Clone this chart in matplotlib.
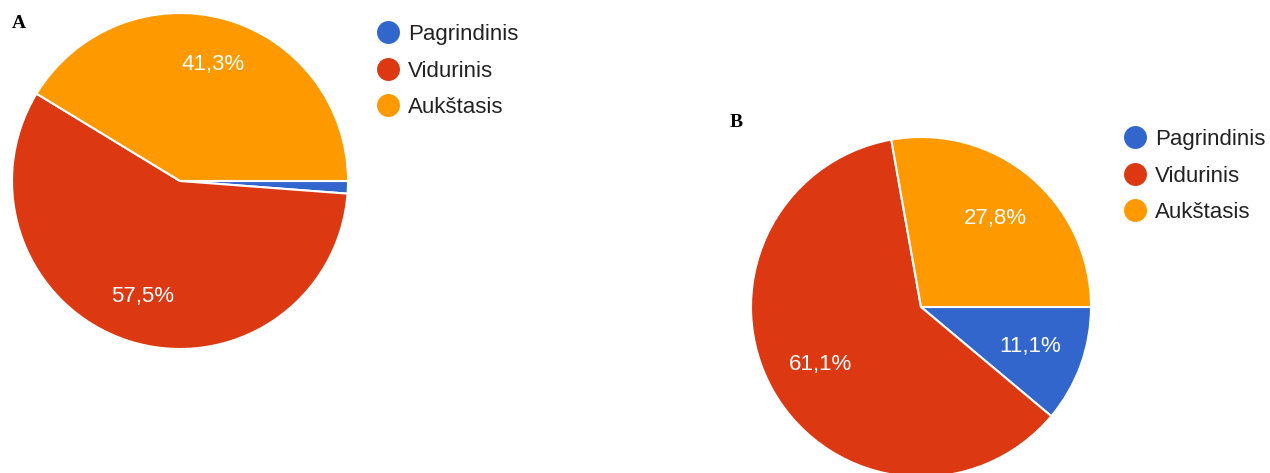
import matplotlib.pyplot as plt
from matplotlib.lines import Line2D

plt.rcParams["font.family"] = ["Liberation Sans", "DejaVu Sans"]

categories = ["Pagrindinis", "Vidurinis", "Aukštasis"]
values_a = [1.2, 57.5, 41.3]
values_b = [11.1, 61.1, 27.8]
colors = ["#3366cc", "#dc3912", "#ff9900"]

W, H = 1270, 473
fig = plt.figure(figsize=(W / 100, H / 100), dpi=100)


def pie_axes(cx, cy, r):
    # pixel centre / radius -> figure coordinates
    return fig.add_axes([(cx - r) / W, (H - cy - r) / H, 2 * r / W, 2 * r / H])


def fmt(p):
    # the tiny slice gets no label
    if p < 5:
        return ""
    return ("%.1f%%" % p).replace(".", ",")


def draw_pie(ax, vals, pctdist):
    wedges, texts, autotexts = ax.pie(
        vals, colors=colors, startangle=0, counterclock=False,
        autopct=fmt, pctdistance=pctdist, radius=1,
        wedgeprops=dict(edgecolor="white", linewidth=1.5),
        textprops=dict(color="white", fontsize=16))
    ax.set_xlim(-1, 1)
    ax.set_ylim(-1, 1)
    ax.set_aspect("equal")
    ax.axis("off")


ax_a = pie_axes(180, 181, 168)
draw_pie(ax_a, values_a, 0.72)
ax_b = pie_axes(921, 307, 170)
draw_pie(ax_b, values_b, 0.68)

handles = [Line2D([], [], marker="o", linestyle="none", markersize=15.5,
                  markerfacecolor=c, markeredgecolor=c) for c in colors]


def add_legend(x, y):
    fig.legend(handles, categories, loc="upper left", bbox_to_anchor=(x / W, 1 - y / H),
               frameon=False, fontsize=16, handlelength=1.0, handletextpad=0.4,
               labelspacing=0.7, borderpad=0, borderaxespad=0, labelcolor="#222222")


add_legend(377, 24)
add_legend(1124, 129)

fig.text(12 / W, 1 - 24 / H, "A", fontsize=14, fontweight="bold",
         family="Liberation Serif", va="center", ha="left")
fig.text(730 / W, 1 - 122 / H, "B", fontsize=14, fontweight="bold",
         family="Liberation Serif", va="center", ha="left")

fig.savefig("out.png", dpi=100)
